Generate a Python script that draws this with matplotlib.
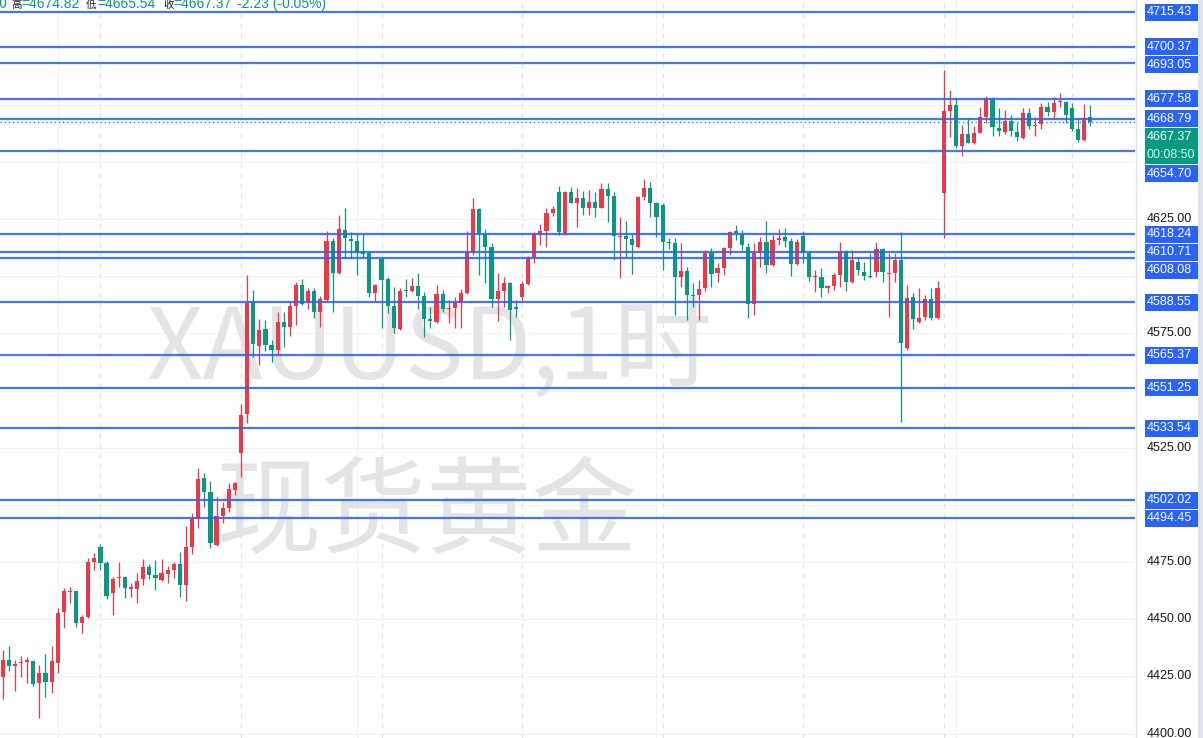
import matplotlib
matplotlib.use("Agg")
import matplotlib.pyplot as plt
from matplotlib.patches import Rectangle
import numpy as np

plt.rcParams['font.family'] = ['Liberation Sans', 'DejaVu Sans']

# XAUUSD 1h candles (oldest first)
opens = [
    4424.8, 4432.3, 4429.7, 4431.0, 4431.4, 4431.8, 4422.2, 4426.6, 4422.7, 4431.0,
    4453.3, 4462.0, 4462.4, 4448.4, 4451.1, 4475.1, 4481.7, 4474.7, 4461.6, 4468.1,
    4468.6, 4463.3, 4463.3, 4467.7, 4472.9, 4469.4, 4467.2, 4469.9, 4471.6, 4474.2,
    4465.1, 4481.7, 4493.9, 4511.8, 4505.7, 4482.5, 4495.2, 4498.7, 4506.6, 4522.7,
    4539.8, 4588.7, 4569.5, 4576.9, 4569.9, 4567.7, 4580.0, 4577.8, 4587.0, 4596.2,
    4588.3, 4593.5, 4584.4, 4589.6, 4615.4, 4601.4, 4620.2, 4616.3, 4615.4, 4610.6,
    4610.1, 4592.7, 4607.5, 4598.8, 4587.0, 4576.9, 4594.0, 4593.5, 4595.7, 4591.3,
    4581.3, 4580.0, 4592.2, 4585.7, 4586.1, 4588.3, 4592.7, 4610.6, 4629.4, 4618.4,
    4612.8, 4590.0, 4593.5, 4597.0, 4586.5, 4590.9, 4596.6, 4608.4, 4618.4, 4619.8,
    4627.6, 4636.8, 4618.9, 4636.8, 4632.0, 4634.2, 4629.8, 4632.4, 4629.8, 4638.1,
    4635.0, 4617.1, 4617.6, 4616.3, 4612.8, 4634.6, 4638.5, 4632.0, 4631.1, 4614.9,
    4614.5, 4599.7, 4602.3, 4591.8, 4591.8, 4594.8, 4610.1, 4601.4, 4603.6, 4612.3,
    4619.8, 4618.4, 4612.8, 4587.9, 4610.1, 4614.9, 4604.9, 4615.8, 4617.1, 4615.4,
    4605.3, 4617.6, 4610.1, 4599.7, 4599.7, 4594.8, 4595.7, 4600.5, 4610.6, 4597.5,
    4606.2, 4601.8, 4600.1, 4601.8, 4611.9, 4601.0, 4601.4, 4607.1, 4568.6, 4590.9,
    4580.0, 4582.2, 4590.0, 4581.7, 4636.4, 4672.2, 4674.8, 4656.9, 4662.1, 4658.2,
    4662.6, 4669.6, 4677.4, 4664.8, 4663.0, 4667.8, 4663.0, 4660.4, 4671.3, 4665.6,
    4666.5, 4673.9, 4671.8, 4676.1, 4676.1, 4673.5, 4664.3, 4659.5, 4669.6,
]
highs = [
    4436.7, 4438.4, 4432.3, 4434.0, 4433.6, 4431.8, 4430.1, 4434.9, 4438.4, 4455.0,
    4463.7, 4464.2, 4462.4, 4451.9, 4476.9, 4479.0, 4483.0, 4475.5, 4468.6, 4475.1,
    4469.0, 4465.9, 4470.3, 4476.4, 4474.2, 4476.0, 4476.4, 4473.4, 4475.1, 4479.5,
    4490.8, 4496.5, 4516.2, 4514.0, 4510.5, 4503.5, 4501.3, 4509.6, 4510.1, 4544.2,
    4600.5, 4594.0, 4581.3, 4580.9, 4572.1, 4584.4, 4584.4, 4588.7, 4597.5, 4598.8,
    4594.8, 4594.8, 4591.3, 4619.8, 4616.7, 4626.7, 4629.8, 4619.3, 4618.4, 4618.9,
    4610.6, 4596.6, 4607.9, 4599.7, 4595.3, 4594.8, 4598.8, 4599.2, 4601.4, 4593.1,
    4586.5, 4596.2, 4594.0, 4589.6, 4590.9, 4594.4, 4619.8, 4634.2, 4629.8, 4620.6,
    4614.5, 4601.4, 4599.7, 4597.4, 4589.6, 4597.9, 4608.8, 4619.3, 4622.8, 4629.8,
    4630.7, 4639.4, 4637.0, 4639.0, 4638.5, 4637.2, 4637.7, 4636.8, 4640.7, 4640.7,
    4636.8, 4625.9, 4624.1, 4618.4, 4635.0, 4642.5, 4641.2, 4632.4, 4632.0, 4616.7,
    4616.7, 4614.5, 4604.0, 4597.0, 4598.3, 4611.4, 4612.3, 4605.8, 4612.7, 4619.8,
    4622.4, 4620.2, 4614.5, 4614.5, 4617.1, 4624.1, 4618.0, 4620.6, 4621.1, 4616.7,
    4616.3, 4619.8, 4610.5, 4602.7, 4603.6, 4596.2, 4601.4, 4614.9, 4611.4, 4611.4,
    4608.0, 4606.2, 4610.1, 4614.9, 4612.3, 4610.1, 4610.1, 4619.3, 4596.2, 4592.7,
    4594.8, 4591.8, 4594.8, 4597.9, 4690.1, 4681.4, 4677.9, 4666.1, 4669.1, 4665.6,
    4673.9, 4678.7, 4678.3, 4673.5, 4672.6, 4670.4, 4666.9, 4673.5, 4673.5, 4669.6,
    4675.7, 4676.1, 4678.3, 4680.1, 4676.4, 4675.7, 4669.1, 4675.3, 4674.82,
]
lows = [
    4415.2, 4427.5, 4418.7, 4424.8, 4422.2, 4420.9, 4406.9, 4416.1, 4417.9, 4426.6,
    4446.3, 4457.2, 4446.7, 4444.1, 4450.6, 4471.6, 4471.6, 4458.9, 4451.9, 4464.2,
    4459.4, 4459.8, 4457.2, 4465.1, 4467.7, 4462.9, 4466.8, 4465.9, 4468.1, 4459.8,
    4458.1, 4478.6, 4490.0, 4499.1, 4481.2, 4482.1, 4492.1, 4497.0, 4504.4, 4512.3,
    4535.8, 4564.7, 4561.2, 4567.3, 4562.5, 4566.0, 4569.1, 4573.9, 4578.7, 4587.4,
    4585.7, 4581.7, 4577.8, 4589.2, 4584.4, 4601.0, 4608.0, 4608.0, 4600.5, 4608.0,
    4590.9, 4588.7, 4577.4, 4583.9, 4575.2, 4576.5, 4590.9, 4593.1, 4585.7, 4573.4,
    4577.4, 4579.5, 4584.4, 4579.5, 4577.4, 4577.4, 4592.3, 4609.3, 4600.5, 4597.0,
    4586.5, 4580.4, 4586.5, 4572.1, 4582.2, 4588.7, 4596.2, 4605.8, 4613.6, 4612.8,
    4626.3, 4618.0, 4618.0, 4631.8, 4621.5, 4626.7, 4626.7, 4625.9, 4629.6, 4623.7,
    4607.1, 4599.2, 4608.0, 4601.0, 4612.4, 4633.3, 4625.9, 4617.1, 4602.7, 4611.9,
    4583.0, 4595.3, 4580.9, 4586.5, 4580.9, 4593.5, 4595.3, 4597.5, 4600.5, 4609.3,
    4615.8, 4611.4, 4581.7, 4583.0, 4604.0, 4601.4, 4604.5, 4613.6, 4612.8, 4600.1,
    4604.9, 4605.8, 4597.9, 4593.1, 4590.9, 4592.7, 4594.0, 4595.3, 4593.5, 4597.0,
    4600.5, 4598.3, 4599.2, 4599.7, 4597.5, 4582.2, 4597.5, 4536.3, 4567.7, 4576.9,
    4579.5, 4580.9, 4580.9, 4581.3, 4616.7, 4660.8, 4656.0, 4652.5, 4658.0, 4657.8,
    4662.4, 4666.9, 4661.3, 4661.3, 4662.1, 4661.3, 4659.1, 4660.0, 4664.3, 4661.3,
    4664.3, 4670.0, 4668.7, 4673.9, 4666.9, 4663.5, 4658.6, 4659.1, 4665.54,
]
closes = [
    4432.3, 4429.7, 4430.5, 4431.4, 4432.3, 4421.8, 4426.6, 4422.7, 4431.8, 4452.8,
    4462.4, 4462.4, 4448.4, 4451.1, 4475.1, 4476.9, 4474.7, 4460.2, 4467.7, 4468.6,
    4463.7, 4464.2, 4466.8, 4472.9, 4469.4, 4468.1, 4470.3, 4471.6, 4474.2, 4465.1,
    4481.7, 4493.9, 4511.4, 4505.7, 4483.4, 4495.2, 4498.7, 4507.0, 4509.6, 4539.3,
    4588.3, 4570.4, 4576.5, 4569.9, 4567.7, 4580.0, 4577.8, 4587.0, 4596.2, 4587.9,
    4593.5, 4584.4, 4590.0, 4615.4, 4601.4, 4620.6, 4616.7, 4615.4, 4610.1, 4609.7,
    4592.7, 4596.2, 4598.3, 4587.0, 4577.4, 4593.5, 4593.5, 4595.7, 4591.3, 4581.3,
    4580.4, 4592.2, 4585.7, 4586.1, 4588.3, 4592.7, 4610.6, 4629.4, 4618.9, 4612.8,
    4590.0, 4593.5, 4597.0, 4585.2, 4585.7, 4596.6, 4608.4, 4618.4, 4619.8, 4627.6,
    4629.4, 4619.3, 4636.8, 4632.0, 4634.2, 4629.8, 4632.4, 4629.8, 4638.1, 4635.0,
    4617.6, 4617.6, 4616.3, 4613.6, 4634.6, 4638.5, 4632.0, 4625.9, 4614.9, 4614.5,
    4599.7, 4602.3, 4591.8, 4591.3, 4594.4, 4610.1, 4601.0, 4603.6, 4612.3, 4619.3,
    4618.9, 4613.6, 4587.9, 4610.1, 4614.9, 4604.9, 4615.8, 4616.7, 4615.4, 4605.3,
    4614.9, 4610.1, 4599.7, 4600.1, 4594.8, 4595.7, 4600.5, 4610.6, 4597.5, 4607.1,
    4602.7, 4600.1, 4599.7, 4611.9, 4601.8, 4601.4, 4607.1, 4570.8, 4590.5, 4581.3,
    4581.7, 4590.0, 4581.7, 4594.8, 4672.2, 4674.8, 4656.9, 4662.1, 4658.2, 4662.6,
    4669.6, 4677.4, 4665.2, 4663.5, 4667.8, 4663.5, 4660.8, 4671.3, 4665.6, 4666.1,
    4673.9, 4671.8, 4675.7, 4676.6, 4670.4, 4664.3, 4659.5, 4669.1, 4667.37,
]

# horizontal levels drawn on the chart
levels = [4715.43, 4700.37, 4693.05, 4677.58, 4668.79, 4654.70, 4618.24, 4610.71,
          4608.08, 4588.55, 4565.37, 4551.25, 4533.54, 4502.02, 4494.45]
price_ticks = [4400, 4425, 4450, 4475, 4500, 4525, 4550, 4575, 4600, 4625, 4650, 4675, 4700]
last_price = 4667.37
countdown = "00:08:50"
header = [("开", "=4669.60"), ("高", "=4674.82"), ("低", "=4665.54"), ("收", "=4667.37")]
change = "-2.23 (-0.05%)"
wm_symbol = "XAUUSD,1时"
wm_name = "现货黄金"

UP, DOWN, BLUE = "#F23645", "#089981", "#2962FF"
INK = "#131722"
CJK = ['Noto Sans CJK SC', 'DejaVu Sans']

W, H = 1203, 738
AX_R = 1135            # right edge of the candle pane, px
STEP, X0 = 6.11, 2.7   # px per bar, px of first bar
YMIN, YMAX = 4398.1, 4720.7
ppu = H / (YMAX - YMIN)  # px per price unit

fig = plt.figure(figsize=(W / 100, H / 100), dpi=100)
ax = fig.add_axes([0, 0, AX_R / W, 1])
pax = fig.add_axes([AX_R / W, 0, 1 - AX_R / W, 1])
for a in (ax, pax):
    a.set_ylim(YMIN, YMAX)
    a.set_xticks([])
    a.set_yticks([])
    for s in a.spines.values():
        s.set_visible(False)
ax.set_xlim(-X0 / STEP, (AX_R - X0) / STEP)
pax.set_xlim(AX_R, W)

o, h, l, c = map(np.array, (opens, highs, lows, closes))
n = min(len(o), len(h), len(l), len(c))
o, h, l, c = o[:n], h[:n], l[:n], c[:n]
x = np.arange(n)
col = np.where(c >= o, UP, DOWN)

# grid
for p in price_ticks:
    ax.axhline(p, color="#f0f2f6", lw=0.8, zorder=0)
for i in [9, 58, 107, 156]:
    ax.axvline(i, color="#f0f2f6", lw=0.8, zorder=0)
for i in [16, 39, 62, 85, 108, 131, 154, 175]:
    ax.axvline(i, color="#dfe2ea", lw=0.9, ls=(0, (4, 4)), zorder=0)

# watermark
ax.text(0.378, 0.524, wm_symbol, transform=ax.transAxes, ha="center", va="center",
        fontsize=71, color="#e4e4e6", family=CJK, zorder=0.5)
ax.text(0.376, 0.302, wm_name, transform=ax.transAxes, ha="center", va="center",
        fontsize=76, color="#e4e4e6", family=CJK, zorder=0.5)

# candles
ax.vlines(x, l, h, colors=col, lw=0.9, zorder=2)
body = np.maximum(np.abs(c - o), 0.45)
ax.bar(x, body, bottom=np.minimum(o, c), width=0.68, color=col, lw=0, zorder=2.1)

# levels
for p in levels:
    ax.axhline(p, color=BLUE, lw=1.6, alpha=0.88, zorder=3)
ax.axhline(last_price, color=DOWN, lw=1.0, ls=(0, (1, 2)), zorder=3.1)

# price scale: labels for the levels, pushed down when they would collide
pax.axvline(AX_R + 0.5, color="#e0e3eb", lw=1)
pax.add_patch(Rectangle((W - 5, YMIN), 5, YMAX - YMIN, color="#e0e3eb", lw=0, zorder=5))

items = [(p, "level") for p in levels] + [(last_price, "last")]
items.sort(key=lambda it: -it[0])
bottom = -1e9
boxes = []
for p, kind in items:
    ypx = (YMAX - p) * ppu
    top = max(ypx - 9, bottom)
    slot = 37 if kind == "last" else 18
    bottom = top + slot
    boxes.append((top, bottom))
    fc = DOWN if kind == "last" else BLUE
    y_top = YMAX - (top + 0.5) / ppu
    y_bot = YMAX - (bottom - 0.5) / ppu
    pax.add_patch(Rectangle((1145, y_bot), 53, y_top - y_bot, color=fc, lw=0, zorder=3))
    pax.text(1146.5, YMAX - (top + 9) / ppu, f"{p:.2f}", ha="left", va="center",
             fontsize=9, color="white", zorder=4)
    if kind == "last":
        pax.text(1146.5, YMAX - (top + 27.5) / ppu, countdown, ha="left", va="center",
                 fontsize=9, color="#d8f3ee", zorder=4)

# regular tick labels, skipped where a level label sits on top of them
for p in price_ticks:
    ypx = (YMAX - p) * ppu
    if any(t - 4 < ypx < b + 4 for t, b in boxes):
        continue
    pax.text(1146.5, p, f"{p:.2f}", ha="left", va="center", fontsize=9, color=INK, zorder=1)

# OHLC header (top edge clipped like the screenshot)
yb = 1 - 8 / H
fig.text(7 / W, yb, header[0][0] + header[0][1], ha="right", va="baseline",
         fontsize=10, color=DOWN, family=CJK)
renderer = fig.canvas.get_renderer()
for (lab, val), xl in zip(header[1:], [11, 86, 163]):
    t = fig.text(xl / W, yb, lab, ha="left", va="baseline", fontsize=7.5, color=INK, family=CJK)
    xr = t.get_window_extent(renderer).x1
    fig.text((xr + 0.5) / W, yb, val, ha="left", va="baseline", fontsize=10, color=DOWN)
fig.text(237 / W, yb, change, ha="left", va="baseline", fontsize=10, color=DOWN)

fig.savefig("out.png", dpi=100)
